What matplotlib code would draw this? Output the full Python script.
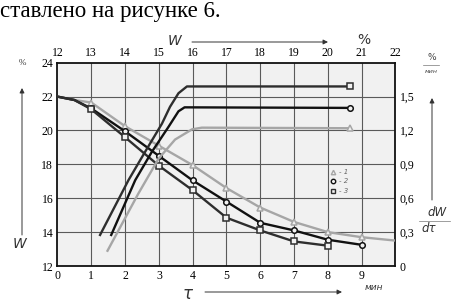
import matplotlib
matplotlib.use("Agg")
import matplotlib.pyplot as plt

# ---- data ----
# drying curves W(%) vs tau (min)
tau1 = [0, 0.5, 1, 2, 3, 4, 5, 6, 7, 8, 9, 10]
w1 = [22.0, 21.8, 21.65, 20.25, 19.1, 17.95, 16.6, 15.45, 14.6, 14.0, 13.7, 13.5]
tau2 = [0, 0.5, 1, 2, 3, 4, 5, 6, 7, 8, 9]
w2 = [22.0, 21.8, 21.3, 19.95, 18.5, 17.05, 15.8, 14.55, 14.1, 13.55, 13.25]
tau3 = [0, 0.5, 1, 2, 3, 4, 5, 6, 7, 8]
w3 = [22.0, 21.8, 21.25, 19.6, 17.92, 16.47, 14.85, 14.1, 13.45, 13.2]

# drying rate curves dW/dtau (%/min) vs W (%)
rw1 = [13.48, 14.39, 14.99, 15.48, 15.98, 16.27, 20.64]
rr1 = [0.135, 0.64, 0.95, 1.12, 1.21, 1.225, 1.22]
rw2 = [13.59, 14.30, 14.79, 15.28, 15.58, 15.76, 20.64]
rr2 = [0.275, 0.76, 1.01, 1.23, 1.37, 1.405, 1.40]
rw3 = [13.26, 14.10, 14.59, 15.09, 15.33, 15.58, 15.83, 20.64]
rr3 = [0.275, 0.76, 1.01, 1.26, 1.41, 1.53, 1.59, 1.59]

tau_ticks = [0, 1, 2, 3, 4, 5, 6, 7, 8, 9]
w_ticks = [12, 14, 16, 18, 20, 22, 24]
wtop_ticks = [12, 13, 14, 15, 16, 17, 18, 19, 20, 21, 22]
rate_ticks = [0, 0.3, 0.6, 0.9, 1.2, 1.5]
rate_labels = ["0", "0,3", "0,6", "0,9", "1,2", "1,5"]

GRAY = "#a6a6a6"
C2 = "#111111"
C3 = "#2e2e2e"
BG = "#f1f1f1"
SERIF = ["Liberation Serif", "DejaVu Serif"]

fig = plt.figure(figsize=(4.58, 3.06), dpi=100)
pos = [0.1255, 0.1307, 0.738, 0.6643]
ax = fig.add_axes(pos)
ax.set_facecolor(BG)
ax.set_xlim(0, 10)
ax.set_ylim(12, 24)
ax.set_xticks(tau_ticks)
ax.set_yticks(w_ticks)
ax.tick_params(length=0, pad=3, labelsize=8.5)
for lab in ax.get_xticklabels() + ax.get_yticklabels():
    lab.set_family(SERIF)
for t in range(1, 10):
    ax.axvline(t, color="#5a5a5a", lw=0.8, zorder=1)
for w in range(14, 24, 2):
    ax.axhline(w, color="#5a5a5a", lw=0.8, zorder=1)
for s in ax.spines.values():
    s.set_linewidth(1.3)
    s.set_color("#111111")

mk = dict(ms=4, mew=1.1, mfc=BG)
ax.plot(tau1, w1, color=GRAY, lw=1.7, marker="^", markevery=list(range(2, 11)), zorder=3, **mk)
ax.plot(tau2, w2, color=C2, lw=1.7, marker="o", markevery=list(range(2, 11)), zorder=4, **mk)
ax.plot(tau3, w3, color=C3, lw=1.7, marker="s", markevery=list(range(2, 10)), zorder=4, **mk)

ax2 = fig.add_axes(pos)
ax2.patch.set_visible(False)
ax2.set_xlim(12, 22)
ax2.set_ylim(0, 1.8)
ax2.xaxis.tick_top()
ax2.yaxis.tick_right()
ax2.set_xticks(wtop_ticks)
ax2.set_yticks(rate_ticks)
ax2.set_yticklabels(rate_labels)
ax2.tick_params(length=0, pad=3, labelsize=8.5)
for lab in ax2.get_xticklabels() + ax2.get_yticklabels():
    lab.set_family(SERIF)
for s in ax2.spines.values():
    s.set_visible(False)

ax2.plot(rw1, rr1, color=GRAY, lw=1.7, marker="^", markevery=[len(rw1) - 1], zorder=3, **mk)
ax2.plot(rw2, rr2, color=C2, lw=1.7, marker="o", markevery=[len(rw2) - 1], zorder=4, **mk)
ax2.plot(rw3, rr3, color=C3, lw=1.7, marker="s", markevery=[len(rw3) - 1], zorder=4, **mk)

# legend
leg = [("^", GRAY, "- 1"), ("o", C2, "- 2"), ("s", C3, "- 3")]
for i, (m, c, t) in enumerate(leg):
    yy = 0.462 - i * 0.046
    ax.plot([0.815], [yy], marker=m, color=c, transform=ax.transAxes, ms=3.2, mew=1.0, mfc=BG, zorder=5)
    ax.text(0.832, yy, t, transform=ax.transAxes, fontsize=5, style="italic",
            va="center", ha="left", color="#666666", zorder=5)

# caption text at top
fig.text(0.0, 1 - 17 / 306, "ставлено на рисунке 6.", family=SERIF, fontsize=16.5,
         va="baseline", ha="left")


def arrow(x0, y0, x1, y1):
    ax.annotate("", xy=(x1 / 458, 1 - y1 / 306), xytext=(x0 / 458, 1 - y0 / 306),
                xycoords="figure fraction", textcoords="figure fraction", annotation_clip=False,
                arrowprops=dict(arrowstyle="-|>", color="#333333", lw=0.7, mutation_scale=7,
                                shrinkA=0, shrinkB=0))


# axis annotations
fig.text(175 / 458, 1 - 41 / 306, "W", style="italic", fontsize=10, ha="center", va="center", color="#333333")
arrow(192, 42, 328, 42)
fig.text(364 / 458, 1 - 40 / 306, "%", fontsize=10, ha="center", va="center", color="#333333")

fig.text(22 / 458, 1 - 63 / 306, "%", family=SERIF, fontsize=6.5, ha="center", va="center", color="#333333")
arrow(22, 235, 22, 88)
fig.text(20 / 458, 1 - 244 / 306, "W", style="italic", fontsize=10, ha="center", va="center", color="#333333")

fig.text(432 / 458, 1 - 58 / 306, "%", fontsize=6.5, ha="center", va="center", color="#444444")
fig.add_artist(plt.Line2D([423 / 458, 439 / 458], [1 - 65 / 306, 1 - 65 / 306], color="#777777", lw=0.5))
fig.text(431 / 458, 1 - 71 / 306, "мин", style="italic", fontsize=4.5, ha="center", va="center", color="#444444")
arrow(432, 200, 432, 98)
fig.text(437 / 458, 1 - 212 / 306, "dW", style="italic", fontsize=8.5, ha="center", va="center", color="#333333")
fig.add_artist(plt.Line2D([419 / 458, 450 / 458], [1 - 221 / 306, 1 - 221 / 306], color="#777777", lw=0.5))
fig.text(429 / 458, 1 - 229 / 306, "dτ", style="italic", fontsize=8.5, ha="center", va="center", color="#333333")

fig.text(188 / 458, 1 - 294 / 306, "τ", style="italic", fontsize=12, ha="center", va="center", color="#333333")
arrow(205, 292, 342, 292)
fig.text(374 / 458, 1 - 287 / 306, "мин", style="italic", fontsize=6.5, ha="center", va="center", color="#333333")

fig.savefig("out.png", dpi=100)
